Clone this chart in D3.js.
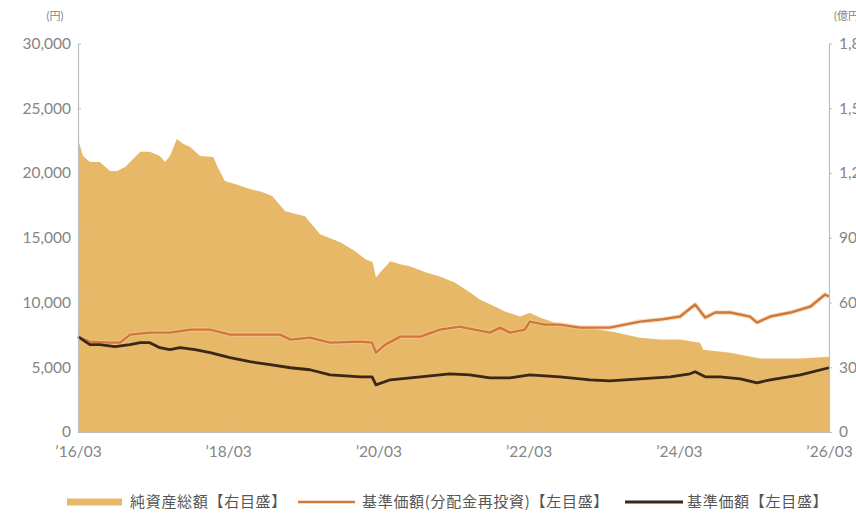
<!DOCTYPE html>
<html><head><meta charset="utf-8">
<script src="https://cdn.jsdelivr.net/npm/d3@7/dist/d3.min.js"></script>
<style>
html,body{margin:0;padding:0;background:#fff;overflow:hidden;}
svg{display:block;}
</style></head>
<body>
<svg id="chart" width="856" height="515"></svg>
<script>
// ---- data ----
const leftTicks = [0, 5000, 10000, 15000, 20000, 25000, 30000];
const rightTicks = [0, 300, 600, 900, 1200, 1500, 1800];
const xTickDates = ["2016-03-31","2018-03-31","2020-03-31","2022-03-31","2024-03-31","2026-03-31"];
const xTickLabels = ["’16/03","’18/03","’20/03","’22/03","’24/03","’26/03"];
const leftUnit = "(円)";
const rightUnit = "(億円)";
const legendLabels = ["純資産総額【右目盛】","基準価額(分配金再投資)【左目盛】","基準価額【左目盛】"];

// 純資産総額 (億円, right axis)
const assetDates = ["2016-03-31","2016-04-24","2016-05-28","2016-07-15","2016-09-03","2016-10-06","2016-11-15","2016-12-24","2017-01-28","2017-03-15","2017-05-03","2017-05-28","2017-06-21","2017-07-25","2017-08-24","2017-09-28","2017-11-15","2018-01-18","2018-02-06","2018-03-15","2018-05-03","2018-07-15","2018-09-12","2018-10-31","2019-01-03","2019-04-09","2019-06-21","2019-09-28","2019-12-09","2020-01-28","2020-03-03","2020-03-19","2020-04-09","2020-05-28","2020-07-15","2020-09-03","2020-11-15","2021-01-24","2021-04-06","2021-06-18","2021-08-06","2021-10-18","2021-12-06","2022-02-18","2022-04-06","2022-05-24","2022-08-31","2023-03-12","2023-05-15","2023-09-24","2023-12-31","2024-04-06","2024-07-12","2024-07-28","2024-12-06","2025-04-30","2025-11-12","2026-03-31"];
const assetValues = [1358,1279,1251,1251,1209,1209,1228,1265,1298,1298,1279,1251,1279,1358,1335,1321,1279,1274,1233,1163,1149,1126,1112,1093,1023,1000,916,879,837,800,786,716,740,791,777,767,740,721,693,647,614,581,558,535,553,530,498,474,465,437,428,428,414,381,367,340,340,349];

// 基準価額(分配金再投資) (円, left axis)
const reinvDates = ["2016-03-31","2016-05-28","2016-09-03","2016-10-21","2016-12-09","2017-03-15","2017-06-21","2017-09-28","2018-01-03","2018-04-09","2018-09-03","2018-12-09","2019-01-28","2019-05-03","2019-08-09","2020-01-03","2020-02-29","2020-03-19","2020-05-03","2020-07-15","2020-10-21","2021-01-24","2021-04-30","2021-07-12","2021-09-24","2021-11-12","2021-12-31","2022-03-12","2022-04-06","2022-06-18","2022-08-31","2022-12-06","2023-04-30","2023-07-12","2023-09-24","2023-12-31","2024-04-06","2024-06-18","2024-08-06","2024-09-24","2024-12-06","2025-03-12","2025-04-15","2025-06-18","2025-09-24","2025-12-31","2026-03-12","2026-03-31"];
const reinvValues = [7364,6977,6900,6900,7520,7674,7674,7907,7907,7520,7520,7520,7132,7287,6900,6977,6900,6124,6744,7364,7364,7907,8140,7907,7674,8062,7674,7907,8527,8295,8295,8062,8062,8295,8527,8682,8915,9845,8837,9225,9225,8915,8450,8915,9225,9690,10620,10465];

// 基準価額 (円, left axis)
const priceDates = ["2016-03-31","2016-05-28","2016-07-15","2016-09-27","2016-12-09","2017-01-28","2017-03-15","2017-05-03","2017-06-21","2017-08-09","2017-10-21","2018-01-03","2018-04-09","2018-07-15","2018-10-21","2019-01-28","2019-05-03","2019-08-09","2020-01-03","2020-02-29","2020-03-19","2020-05-28","2020-10-21","2021-03-12","2021-06-18","2021-09-24","2021-12-31","2022-04-06","2022-08-31","2023-01-24","2023-04-30","2023-09-24","2024-02-18","2024-05-24","2024-06-18","2024-08-06","2024-10-18","2025-01-24","2025-04-15","2025-06-18","2025-11-12","2026-03-31"];
const priceValues = [7364,6744,6744,6589,6744,6900,6900,6512,6357,6512,6357,6124,5736,5426,5194,4961,4806,4419,4264,4264,3643,4031,4264,4496,4419,4186,4186,4419,4264,4031,3953,4109,4264,4496,4651,4264,4264,4109,3798,4031,4419,4961];

// ---- drawing ----
const parse = d3.timeParse("%Y-%m-%d");
const W = 856, H = 515;
const m = {left: 78, right: 27, top: 43.5, bottom: 83};
const svg = d3.select("#chart");
const x = d3.scaleTime().domain([parse("2016-03-31"), parse("2026-03-31")]).range([m.left, W - m.right]);
const yL = d3.scaleLinear().domain([0, 30000]).range([H - m.bottom, m.top]);
const yR = d3.scaleLinear().domain([0, 1800]).range([H - m.bottom, m.top]);

const zip = (ds, vs) => ds.map((d, i) => ({date: parse(d), v: vs[i]}));
const assets = zip(assetDates, assetValues);
const reinv = zip(reinvDates, reinvValues);
const price = zip(priceDates, priceValues);

const FONT = "'Lato','Noto Sans CJK JP',sans-serif";
const AREA = "#E7B867", ORANGE = "#D27736", DARK = "#3A2717";

svg.append("path").datum(assets)
  .attr("fill", AREA)
  .attr("d", d3.area().x(d => x(d.date)).y0(yR(0)).y1(d => yR(d.v)));

const lineL = d3.line().x(d => x(d.date)).y(d => yL(d.v));
svg.append("path").datum(reinv).attr("fill","none").attr("stroke","#F2C9A0").attr("stroke-width",4.5).attr("stroke-opacity",0.6).attr("stroke-linejoin","round").attr("d", lineL);
svg.append("path").datum(reinv).attr("fill","none").attr("stroke",ORANGE).attr("stroke-width",2.4).attr("stroke-linejoin","round").attr("d", lineL);
svg.append("path").datum(price).attr("fill","none").attr("stroke",DARK).attr("stroke-width",2.8).attr("stroke-linejoin","round").attr("d", lineL);

function styleAxis(g){
  g.selectAll(".domain").attr("stroke","#bdbdbd").attr("stroke-width",1.2);
  g.selectAll(".tick line").attr("stroke","#bdbdbd");
  g.selectAll("text").attr("fill","#858585").style("font-family",FONT).style("font-size","15.5px");
}
svg.append("g").attr("transform",`translate(${m.left},0)`)
  .call(d3.axisLeft(yL).tickValues(leftTicks).tickFormat(d3.format(",")).tickSizeInner(-3).tickSizeOuter(0).tickPadding(7))
  .call(styleAxis);
svg.append("g").attr("transform",`translate(${W - m.right},0)`)
  .call(d3.axisRight(yR).tickValues(rightTicks).tickFormat(d3.format(",")).tickSizeInner(3).tickSizeOuter(0).tickPadding(7))
  .call(styleAxis);
svg.append("g").attr("transform",`translate(0,${H - m.bottom})`)
  .call(d3.axisBottom(x).tickValues(xTickDates.map(parse)).tickFormat((d,i) => xTickLabels[i]).tickSizeInner(-3).tickSizeOuter(0).tickPadding(14))
  .call(styleAxis);

svg.append("text").attr("x", 55).attr("y", 20).attr("text-anchor","middle")
  .attr("fill","#858585").style("font-family",FONT).style("font-size","11px").text(leftUnit);
svg.append("text").attr("x", 834).attr("y", 20).attr("text-anchor","start")
  .attr("fill","#858585").style("font-family",FONT).style("font-size","11px").text(rightUnit);

// legend
const ly = 502;
const lg = svg.append("g").style("font-family","'Noto Sans CJK JP',sans-serif").style("font-size","15px").style("letter-spacing","0.7px");
lg.append("rect").attr("x",67).attr("y",ly-3.5).attr("width",55).attr("height",7).attr("fill",AREA);
lg.append("text").attr("x",130).attr("y",ly).attr("dy","0.35em").attr("fill","#555").text(legendLabels[0]);
lg.append("line").attr("x1",298).attr("x2",355).attr("y1",ly).attr("y2",ly).attr("stroke",ORANGE).attr("stroke-width",2.4);
lg.append("text").attr("x",362).attr("y",ly).attr("dy","0.35em").attr("fill","#555").text(legendLabels[1]);
lg.append("line").attr("x1",625).attr("x2",683).attr("y1",ly).attr("y2",ly).attr("stroke",DARK).attr("stroke-width",2.8);
lg.append("text").attr("x",687).attr("y",ly).attr("dy","0.35em").attr("fill","#555").text(legendLabels[2]);
</script>
</body></html>
